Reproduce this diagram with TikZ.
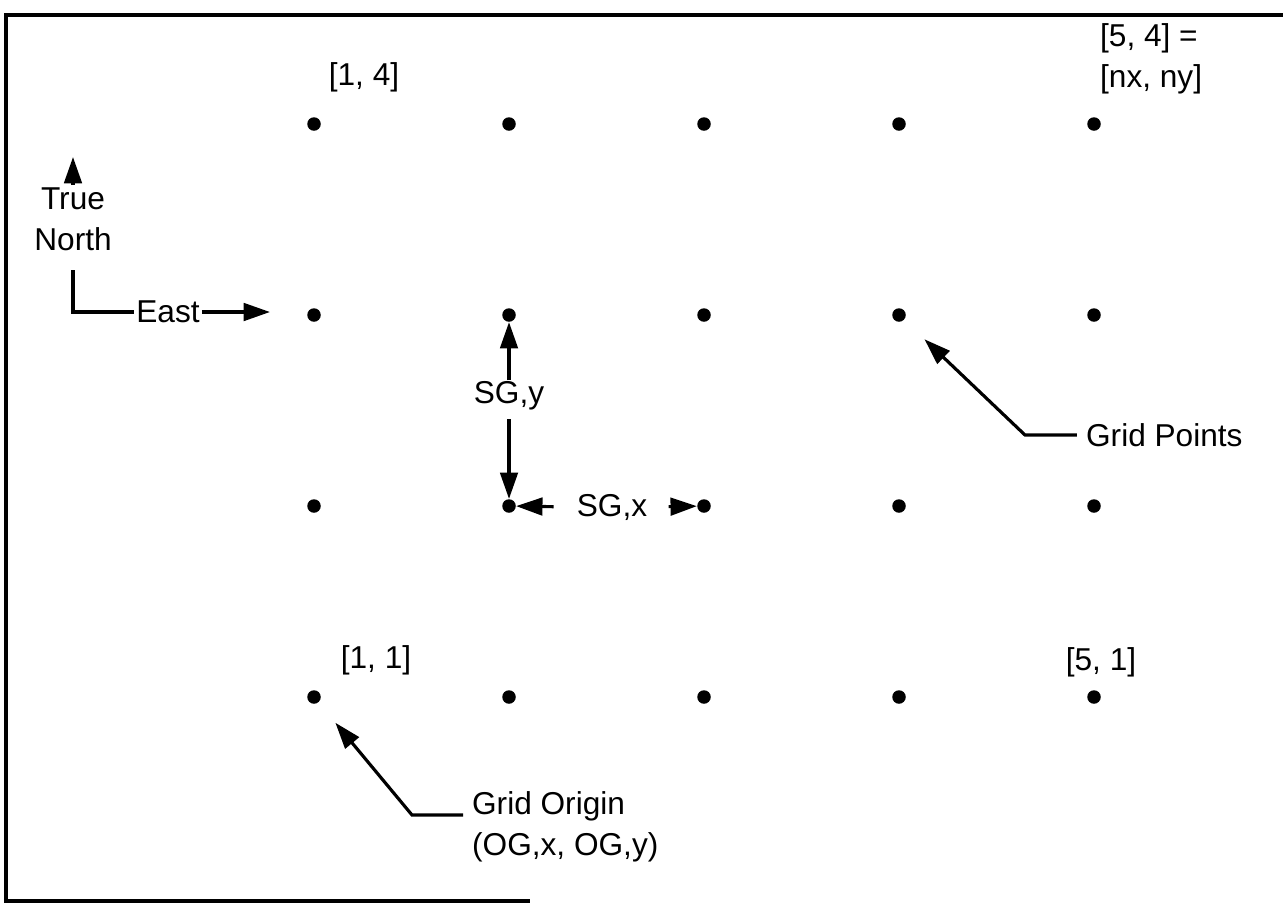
\documentclass[tikz,border=0pt]{standalone}
\usepackage{fontspec}
\setmainfont{Liberation Sans}
\usetikzlibrary{arrows.meta, positioning, calc}

\begin{document}
\begin{tikzpicture}[x=0.02cm, y=-0.02cm,
    gridpt/.style={circle, fill=black, inner sep=0pt, minimum size=0.27cm},
    lbl/.style={font=\fontsize{18}{23.5}\selectfont, inner sep=1pt},
    pointer/.style={line width=1.8pt, -{Triangle[length=15pt, width=10pt]}},
    plainline/.style={line width=2pt}]

  %% Page and frame (cut off at the right)
  \useasboundingbox (0,0) rectangle (1283,904);
  \draw[line width=2.2pt] (1283,15) -- (6,15) -- (6,901) -- (530,901);

  %% Grid points, 5 x 4
  \foreach \i in {1,...,5}
    \foreach \j in {1,...,4}
      \node[gridpt] (p-\i-\j) at ({314+195*(\i-1)}, {697-191*(\j-1)}) {};

  %% Corner labels
  \node[lbl] (l14) at (364,77) {[1, 4]};
  \node[lbl, anchor=west, align=left] (l54) at (1098,59) {[5, 4] =\\{}[nx, ny]};
  \node[lbl] (l11) at (376,660) {[1, 1]};
  \node[lbl] (l51) at (1101,662) {[5, 1]};

  %% North / East
  \node[lbl, align=center] (tn) at (73,219) {True\\North};
  \coordinate (ntip) at (73,157);
  \draw[pointer] (tn.north) -- (ntip);
  \node[lbl] (east) at (168,312) {East};
  \draw[plainline, shorten <=10pt] (tn.south) |- (east.west);
  \coordinate (etip) at (270,312);
  \draw[pointer] (east.east) -- (etip);

  %% Grid spacing
  \node[lbl] (sgy) at (509,396) {SG,y};
  \draw[pointer] (sgy.north) -- (p-2-3);
  \draw[pointer, shorten <=4pt] (sgy.south) -- (p-2-2);
  \node[lbl] (sgx) at (612,507) {SG,x};
  \draw[pointer, shorten <=12pt] (sgx.west) -- (p-2-2);
  \draw[pointer, shorten <=11pt] (sgx.east) -- (p-3-2);

  %% Pointers
  \node[lbl, anchor=west] (gplbl) at (1084,435) {Grid Points};
  \coordinate (gpbend) at (1025,435);
  \draw[pointer, shorten <=4pt, shorten >=16pt] (gplbl.west) -- (gpbend) -- (p-4-3);

  \node[lbl, anchor=west, align=left] (golbl) at (470,827) {Grid Origin\\(OG,x, OG,y)};
  \coordinate (goend) at (463,815);
  \coordinate (gobend) at (412,815);
  \draw[pointer, shorten >=15pt] (goend) -- (gobend) -- (p-1-1);

\end{tikzpicture}
\end{document}
